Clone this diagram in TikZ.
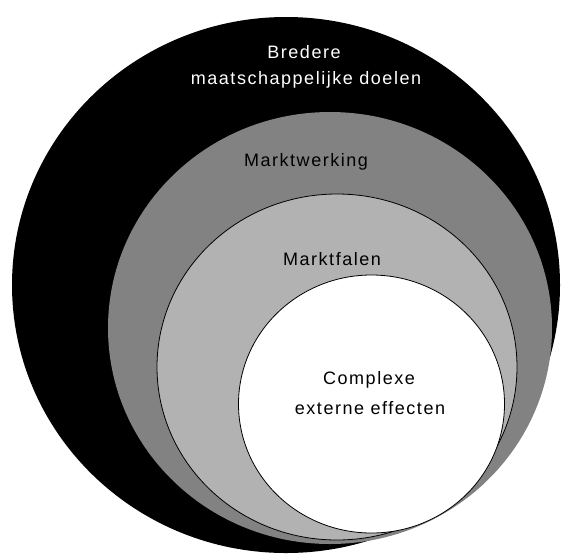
\documentclass[tikz,border=0pt]{standalone}
\usepackage{fontspec}
\setmainfont{Liberation Sans}[LetterSpace=8.5]
\definecolor{midgray}{HTML}{828282}
\definecolor{lightgray2}{HTML}{B2B2B2}
\begin{document}
\begin{tikzpicture}[x=1pt,y=-1pt,
  lbl/.style={font=\fontsize{18}{26}\selectfont, align=center, inner sep=0pt, anchor=base},
  ring/.style={draw=black, line width=0.8pt}]
\useasboundingbox (0,0) rectangle (567,555);
\fill[white] (0,0) rectangle (567,555);
\begin{scope}
\clip (0,0) rectangle (567,555);
\fill[black] (286,285) ellipse [x radius=274, y radius=268];
\fill[midgray] (330,328) ellipse [x radius=222, y radius=216];
\filldraw[ring, fill=lightgray2] (337,367) ellipse [x radius=180, y radius=173];
\filldraw[ring, fill=white] (371.5,404) ellipse [x radius=133, y radius=129];
\end{scope}
\node[lbl, text=white] (brede) at (304,58) {Bredere};
\node[lbl, text=white] (maat) at (306,84) {maatschappelijke doelen};
\node[lbl] (markt) at (306,166) {Marktwerking};
\node[lbl] (falen) at (332,265) {Marktfalen};
\node[lbl] (compl) at (369,384) {Complexe};
\node[lbl] (ext) at (370,414) {externe effecten};
\end{tikzpicture}
\end{document}
